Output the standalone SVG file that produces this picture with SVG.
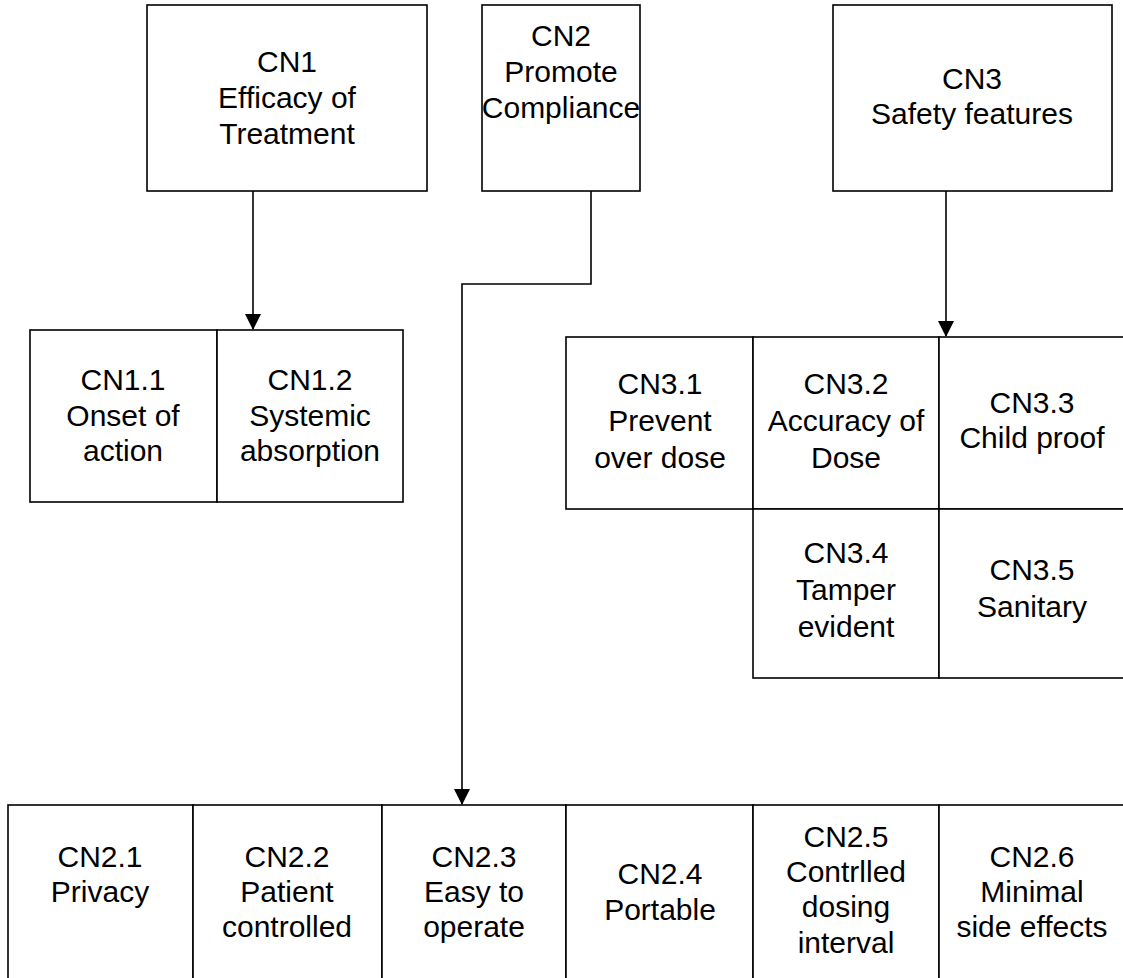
<svg xmlns="http://www.w3.org/2000/svg" width="1123" height="978" viewBox="0 0 1123 978">
<style>
.box{fill:#fff;stroke:#000;stroke-width:1.6}
.t{font-family:"Liberation Sans",Arial,sans-serif;font-size:30px;fill:#000;text-anchor:middle}
.con{fill:none;stroke:#000;stroke-width:1.6}
</style>
<defs>
<marker id="arr" markerWidth="16" markerHeight="16" refX="15" refY="8" orient="auto" markerUnits="userSpaceOnUse">
<path d="M0,0 L16,8 L0,16 Z" fill="#000"/>
</marker>
</defs>
<rect width="1123" height="978" fill="#fff"/>
<g id="connectors">
<path class="con" d="M253,191 V329" marker-end="url(#arr)"/>
<path class="con" d="M946,191 V336" marker-end="url(#arr)"/>
<path class="con" d="M591,191 V284 H462 V804" marker-end="url(#arr)"/>
</g>
<g id="CN1"><rect class="box" x="147" y="5" width="280" height="186"/>
<text class="t" x="287" y="72">CN1</text><text class="t" x="287" y="108">Efficacy of</text><text class="t" x="287" y="144">Treatment</text></g>
<g id="CN2"><rect class="box" x="482" y="5" width="158" height="186"/>
<text class="t" x="561" y="46">CN2</text><text class="t" x="561" y="82">Promote</text><text class="t" x="561" y="118">Compliance</text></g>
<g id="CN3"><rect class="box" x="833" y="5" width="279" height="186"/>
<text class="t" x="972" y="89">CN3</text><text class="t" x="972" y="124">Safety features</text></g>
<g id="CN1.1"><rect class="box" x="30" y="330" width="187" height="172"/>
<text class="t" x="123" y="390">CN1.1</text><text class="t" x="123" y="426">Onset of</text><text class="t" x="123" y="461">action</text></g>
<g id="CN1.2"><rect class="box" x="217" y="330" width="186" height="172"/>
<text class="t" x="310" y="390">CN1.2</text><text class="t" x="310" y="426">Systemic</text><text class="t" x="310" y="461">absorption</text></g>
<g id="CN3.1"><rect class="box" x="566" y="337" width="187" height="172"/>
<text class="t" x="660" y="394">CN3.1</text><text class="t" x="660" y="431">Prevent</text><text class="t" x="660" y="468">over dose</text></g>
<g id="CN3.2"><rect class="box" x="753" y="337" width="186" height="172"/>
<text class="t" x="846" y="394">CN3.2</text><text class="t" x="846" y="431">Accuracy of</text><text class="t" x="846" y="468">Dose</text></g>
<g id="CN3.3"><rect class="box" x="939" y="337" width="190" height="172"/>
<text class="t" x="1032" y="413">CN3.3</text><text class="t" x="1032" y="448">Child proof</text></g>
<g id="CN3.4"><rect class="box" x="753" y="509" width="186" height="169"/>
<text class="t" x="846" y="563">CN3.4</text><text class="t" x="846" y="600">Tamper</text><text class="t" x="846" y="637">evident</text></g>
<g id="CN3.5"><rect class="box" x="939" y="509" width="190" height="169"/>
<text class="t" x="1032" y="580">CN3.5</text><text class="t" x="1032" y="617">Sanitary</text></g>
<g id="CN2.1"><rect class="box" x="8" y="805" width="185" height="190"/>
<text class="t" x="100" y="867">CN2.1</text><text class="t" x="100" y="902">Privacy</text></g>
<g id="CN2.2"><rect class="box" x="193" y="805" width="189" height="190"/>
<text class="t" x="287" y="867">CN2.2</text><text class="t" x="287" y="902">Patient</text><text class="t" x="287" y="937">controlled</text></g>
<g id="CN2.3"><rect class="box" x="382" y="805" width="184" height="190"/>
<text class="t" x="474" y="867">CN2.3</text><text class="t" x="474" y="902">Easy to</text><text class="t" x="474" y="937">operate</text></g>
<g id="CN2.4"><rect class="box" x="566" y="805" width="187" height="190"/>
<text class="t" x="660" y="884">CN2.4</text><text class="t" x="660" y="920">Portable</text></g>
<g id="CN2.5"><rect class="box" x="753" y="805" width="186" height="190"/>
<text class="t" x="846" y="847">CN2.5</text><text class="t" x="846" y="882">Contrlled</text><text class="t" x="846" y="917">dosing</text><text class="t" x="846" y="953">interval</text></g>
<g id="CN2.6"><rect class="box" x="939" y="805" width="190" height="190"/>
<text class="t" x="1032" y="867">CN2.6</text><text class="t" x="1032" y="902">Minimal</text><text class="t" x="1032" y="937">side effects</text></g>
</svg>
